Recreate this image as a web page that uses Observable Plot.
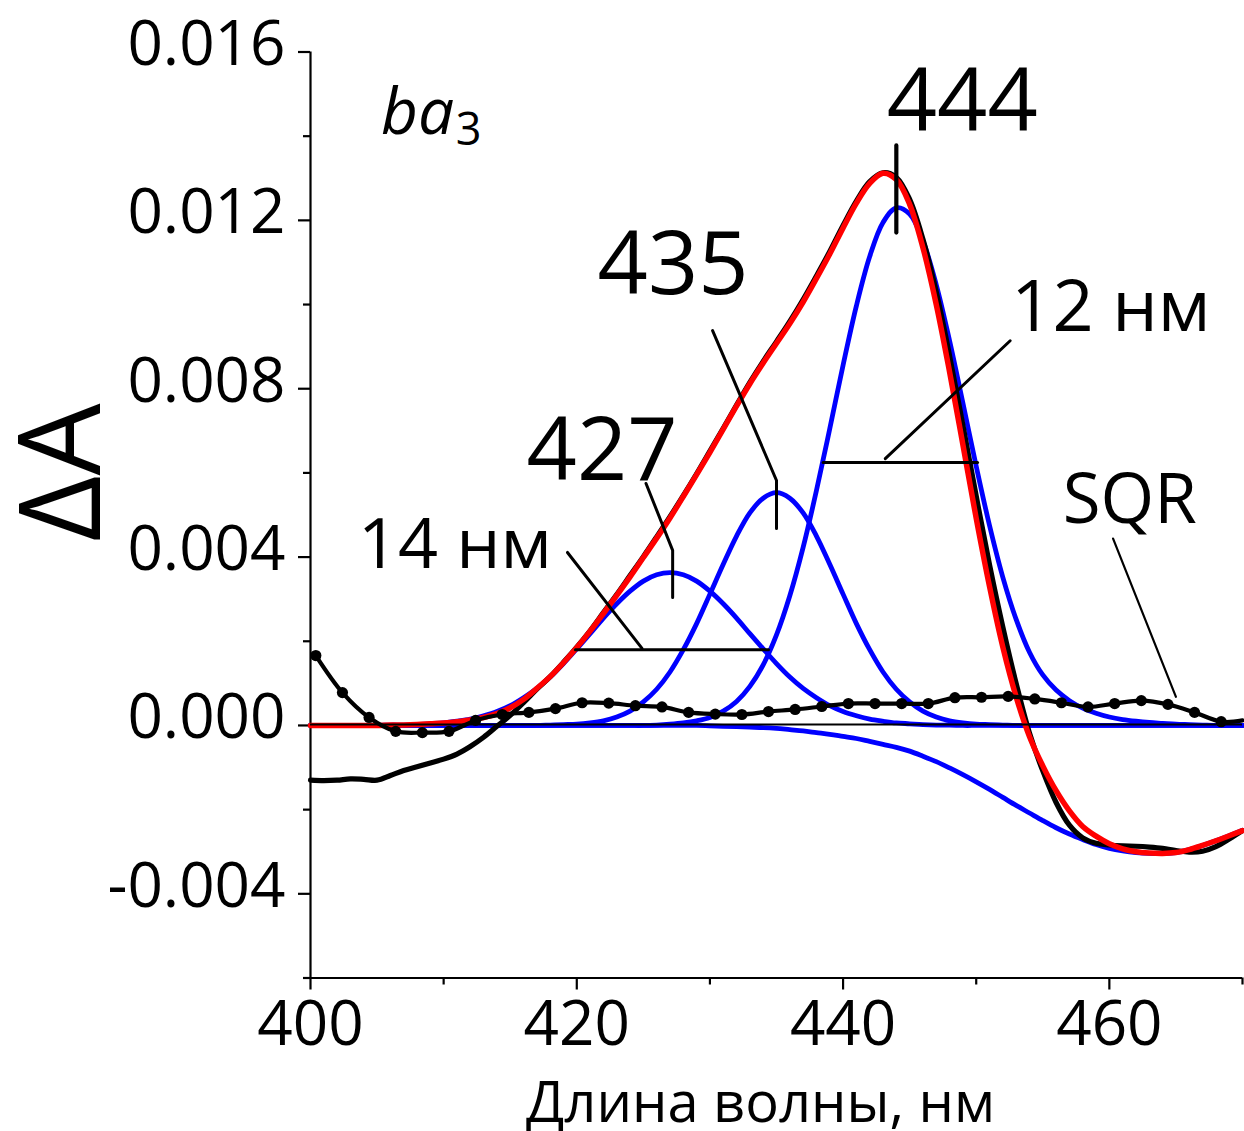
<!DOCTYPE html>
<html><head><meta charset="utf-8">
<script src="https://cdn.jsdelivr.net/npm/d3@7"></script>
<script src="https://cdn.jsdelivr.net/npm/@observablehq/plot@0.6"></script>
<style>body{margin:0;background:#fff;} #chart svg{display:block;}</style>
</head><body><div id="chart"></div>
<script>
// ---- data (ΔA vs wavelength, nm) ----
const wavelength = [400,401,402,403,404,405,406,407,408,409,410,411,412,413,414,415,416,417,418,419,420,421,422,423,424,425,426,427,428,429,430,431,432,433,434,435,436,437,438,439,440,441,442,443,444,445,446,447,448,449,450,451,452,453,454,455,456,457,458,459,460,461,462,463,464,465,466,467,468,469,470];

const band427 = [0,0,0,0,0,0,0.00001,0.00001,0.00002,0.00004,0.00006,0.00010,0.00015,0.00023,0.00033,0.00047,0.00066,0.00088,0.00115,0.00147,0.00182,0.00218,0.00255,0.00289,0.00319,0.00343,0.00358,0.00363,0.00358,0.00343,0.00319,0.00289,0.00255,0.00218,0.00182,0.00147,0.00115,0.00088,0.00066,0.00047,0.00033,0.00023,0.00015,0.00010,0.00006,0.00004,0.00002,0.00001,0.00001,0,0,0,0,0,0,0,0,0,0,0,0,0,0,0,0,0,0,0,0,0,0];

const band435 = [0,0,0,0,0,0,0,0,0,0,0,0,0,0,0,0,0,0,0.00001,0.00002,0.00003,0.00006,0.00011,0.00020,0.00034,0.00056,0.00086,0.00127,0.00180,0.00242,0.00312,0.00383,0.00450,0.00505,0.00540,0.00553,0.00540,0.00505,0.00450,0.00383,0.00312,0.00242,0.00180,0.00127,0.00086,0.00056,0.00034,0.00020,0.00011,0.00006,0.00003,0.00002,0.00001,0,0,0,0,0,0,0,0,0,0,0,0,0,0,0,0,0,0];

const band444 = [0,0,0,0,0,0,0,0,0,0,0,0,0,0,0,0,0,0,0,0,0,0,0,0,0,0,0.00001,0.00003,0.00006,0.00011,0.00019,0.00034,0.00057,0.00093,0.00144,0.00215,0.00308,0.00423,0.00558,0.00705,0.00856,0.00997,0.01114,0.01195,0.01230,0.01215,0.01151,0.01047,0.00914,0.00766,0.00616,0.00475,0.00352,0.00252,0.00174,0.00120,0.00084,0.00059,0.00041,0.00029,0.00020,0.00014,0.00010,0.00007,0.00005,0.00003,0.00002,0.00001,0,0,0];

const bandNeg = [0,0,0,0,0,0,0,0,0,0,0,0,0,0,0,0,0,0,0,0,0,0,0,0,0,0,0,0,0,0,-0.00001,-0.00002,-0.00003,-0.00004,-0.00005,-0.00007,-0.00010,-0.00013,-0.00017,-0.00021,-0.00026,-0.00031,-0.00038,-0.00045,-0.00052,-0.00061,-0.00073,-0.00086,-0.00101,-0.00117,-0.00134,-0.00152,-0.00171,-0.00190,-0.00208,-0.00226,-0.00243,-0.00258,-0.00271,-0.00283,-0.00292,-0.00298,-0.00302,-0.00304,-0.00304,-0.00302,-0.00295,-0.00285,-0.00274,-0.00262,-0.00249];

const fitSum = [0,0,0,0,0,0,0.00001,0.00001,0.00002,0.00004,0.00006,0.00009,0.00013,0.00019,0.00028,0.00042,0.00062,0.00088,0.00116,0.00149,0.00185,0.00224,0.00266,0.00309,0.00353,0.00399,0.00445,0.00493,0.00544,0.00596,0.00649,0.00704,0.00759,0.00812,0.00861,0.00908,0.00955,0.01006,0.01062,0.01120,0.01182,0.01241,0.01288,0.01312,0.01297,0.01238,0.01135,0.01000,0.00840,0.00667,0.00492,0.00330,0.00186,0.00068,-0.00026,-0.00096,-0.00155,-0.00203,-0.00240,-0.00263,-0.00281,-0.00293,-0.00300,-0.00303,-0.00304,-0.00302,-0.00295,-0.00285,-0.00274,-0.00262,-0.00250];

const measured = [-0.00130,-0.00131,-0.00130,-0.00127,-0.00128,-0.00130,-0.00119,-0.00107,-0.00098,-0.00089,-0.00080,-0.00068,-0.00050,-0.00028,-0.00002,0.00024,0.00054,0.00086,0.00116,0.00150,0.00186,0.00225,0.00268,0.00311,0.00356,0.00401,0.00448,0.00496,0.00546,0.00598,0.00652,0.00706,0.00761,0.00815,0.00865,0.00912,0.00960,0.01012,0.01068,0.01126,0.01188,0.01246,0.01292,0.01313,0.01302,0.01250,0.01155,0.01030,0.00878,0.00713,0.00545,0.00382,0.00234,0.00100,-0.00018,-0.00108,-0.00183,-0.00237,-0.00267,-0.00280,-0.00284,-0.00286,-0.00287,-0.00289,-0.00292,-0.00297,-0.00301,-0.00299,-0.00288,-0.00270,-0.00250];

// SQR residual (dots)
const sqrWavelength = [400.4,402.4,404.4,406.4,408.4,410.4,412.4,414.4,416.4,418.4,420.4,422.4,424.4,426.4,428.4,430.4,432.4,434.4,436.4,438.4,440.4,442.4,444.4,446.4,448.4,450.4,452.4,454.4,456.4,458.4,460.4,462.4,464.4,466.4,468.4];
const sqrValue = [0.00166,0.00078,0.00019,-0.00014,-0.00017,-0.00014,0.00012,0.00026,0.00031,0.00040,0.00054,0.00053,0.00047,0.00044,0.00031,0.00027,0.00026,0.00033,0.00038,0.00045,0.00052,0.00052,0.00052,0.00052,0.00066,0.00067,0.00069,0.00063,0.00054,0.00044,0.00052,0.00059,0.00050,0.00031,0.00009];
const sqrEndWavelength = 470;
const sqrEndValue = 0.00012;

// ticks
const xMajorTicks = [400, 420, 440, 460];
const xMinorTicks = [410, 430, 450, 470];
const yMajorTicks = [-0.004, 0, 0.004, 0.008, 0.012, 0.016];
const yMinorTicks = [-0.006, -0.002, 0.002, 0.006, 0.010, 0.014];

// annotations (data units)
const mark444X = [444.0, 444.0], mark444Y = [0.01378, 0.01171];
const mark435X = [430.2, 435.0, 435.0], mark435Y = [0.00938, 0.00582, 0.00468];
const mark427X = [425.2, 427.2, 427.2], mark427Y = [0.00575, 0.00416, 0.00304];
const fwhm14X = [419.9, 434.4], fwhm14Y = [0.00180, 0.00180];
const ptr14X = [419.3, 424.9], ptr14Y = [0.00411, 0.00183];
const fwhm12X = [438.5, 450.1], fwhm12Y = [0.00625, 0.00625];
const ptr12X = [452.55, 443.17], ptr12Y = [0.00914, 0.00634];
const ptrSqrX = [460.28, 465.0], ptrSqrY = [0.00444, 0.00068];

const peakLabels = [
  {text: "444", x: 448.95, y: 0.01413},
  {text: "435", x: 427.23, y: 0.01026},
  {text: "427", x: 421.9, y: 0.00582}
];
const sideLabels = [
  {text: "12 нм", x: 452.63, y: 0.00938, size: 72},
  {text: "14 нм", x: 403.56, y: 0.00373, size: 70},
  {text: "SQR", x: 456.5, y: 0.00482, size: 69}
];

// ---- build tables ----
const rows = wavelength.map((w, i) => ({w, b427: band427[i], b435: band435[i], b444: band444[i], neg: bandNeg[i], fit: fitSum[i], meas: measured[i]}));
const sqrRows = sqrWavelength.map((w, i) => ({w, v: sqrValue[i]}));
const sqrLine = sqrRows.concat([{w: sqrEndWavelength, v: sqrEndValue}]);
const seg = (xs, ys) => xs.map((x, i) => ({x, y: ys[i]}));

const blue = "#0000ff", red = "#ff0000";
const curve = "catmull-rom";
const fmt = d => d.toFixed(3);

const chart = Plot.plot({
  width: 1244, height: 1131,
  marginLeft: 310, marginRight: 2, marginTop: 51.5, marginBottom: 153.5,
  style: {fontFamily: "'Open Sans', sans-serif", background: "#fff", color: "#000", overflow: "visible"},
  x: {domain: [400, 470]},
  y: {domain: [-0.006, 0.016]},
  marks: [
    Plot.axisX(xMajorTicks, {tickSize: 12, strokeWidth: 2.2, label: null, tickFormat: () => ""}),
    Plot.axisX(xMinorTicks, {tickSize: 7, strokeWidth: 2.2, label: null, tickFormat: () => ""}),
    Plot.axisY(yMajorTicks, {tickSize: 12, strokeWidth: 2.2, label: null, tickFormat: () => ""}),
    Plot.axisY(yMinorTicks, {tickSize: 7, strokeWidth: 2.2, label: null, tickFormat: () => ""}),
    Plot.text(xMajorTicks, {x: d => d, text: d => String(d), frameAnchor: "bottom", dy: 22.5, lineAnchor: "top", fontSize: 62, fill: "#000"}),
    Plot.text(yMajorTicks, {y: d => d, text: fmt, frameAnchor: "left", dx: -25, dy: -7, textAnchor: "end", lineAnchor: "middle", fontSize: 62, fill: "#000"}),
    Plot.ruleX([400], {stroke: "#000", strokeWidth: 2.2}),
    Plot.ruleY([-0.006], {stroke: "#000", strokeWidth: 2.2}),

    // component bands
    Plot.line(rows, {x: "w", y: "neg", stroke: blue, strokeWidth: 4.8, curve}),
    Plot.line(rows, {x: "w", y: "b427", stroke: blue, strokeWidth: 4.8, curve}),
    Plot.line(rows, {x: "w", y: "b435", stroke: blue, strokeWidth: 4.8, curve}),
    Plot.line(rows, {x: "w", y: "b444", stroke: blue, strokeWidth: 4.8, curve}),
    // measured spectrum and fit
    Plot.line(rows, {x: "w", y: "meas", stroke: "#000", strokeWidth: 5.2, curve}),
    Plot.line(rows, {x: "w", y: "fit", stroke: red, strokeWidth: 5.5, curve}),
    // SQR
    Plot.line(sqrLine, {x: "w", y: "v", stroke: "#000", strokeWidth: 4.2, curve}),
    Plot.dot(sqrRows, {x: "w", y: "v", r: 5.6, fill: "#000"}),
    // zero line
    Plot.ruleY([0], {stroke: "#000", strokeWidth: 2, dy: -1}),

    // annotations
    Plot.line(seg(mark444X, mark444Y), {x: "x", y: "y", stroke: "#000", strokeWidth: 4.2}),
    Plot.line(seg(mark435X, mark435Y), {x: "x", y: "y", stroke: "#000", strokeWidth: 3}),
    Plot.line(seg(mark427X, mark427Y), {x: "x", y: "y", stroke: "#000", strokeWidth: 3}),
    Plot.line(seg(fwhm14X, fwhm14Y), {x: "x", y: "y", stroke: "#000", strokeWidth: 3}),
    Plot.line(seg(ptr14X, ptr14Y), {x: "x", y: "y", stroke: "#000", strokeWidth: 3}),
    Plot.line(seg(fwhm12X, fwhm12Y), {x: "x", y: "y", stroke: "#000", strokeWidth: 3}),
    Plot.line(seg(ptr12X, ptr12Y), {x: "x", y: "y", stroke: "#000", strokeWidth: 3}),
    Plot.line(seg(ptrSqrX, ptrSqrY), {x: "x", y: "y", stroke: "#000", strokeWidth: 2.2}),

    Plot.text(sideLabels, {x: "x", y: "y", text: "text", fontSize: d => d.size, textAnchor: "start", lineAnchor: "bottom", fill: "#000"}),
    Plot.text(peakLabels, {x: "x", y: "y", text: "text", textAnchor: "middle", lineAnchor: "bottom", fill: "#000", fontSize: 88}),

    // ba3 label
    Plot.text(["ba"], {text: d => d, x: () => 405.3, y: () => 0.01406, fontSize: 64, fontStyle: "italic", textAnchor: "start", lineAnchor: "bottom", fill: "#000"}),
    Plot.text(["3"], {text: d => d, x: () => 410.9, y: () => 0.01378, fontSize: 45, textAnchor: "start", lineAnchor: "bottom", fill: "#000"}),

    // axis titles
    Plot.text(["ΔA"], {text: d => d, frameAnchor: "top-left", dx: -211, dy: 420.5, rotate: -90, textAnchor: "middle", lineAnchor: "bottom", fontSize: 114, fill: "#000"}),
    Plot.text(["Длина волны, нм"], {text: d => d, frameAnchor: "bottom", dx: -16, dy: 144, textAnchor: "middle", lineAnchor: "bottom", fontSize: 56, fill: "#000"})
  ]
});
document.getElementById("chart").appendChild(chart);
</script>
</body></html>
